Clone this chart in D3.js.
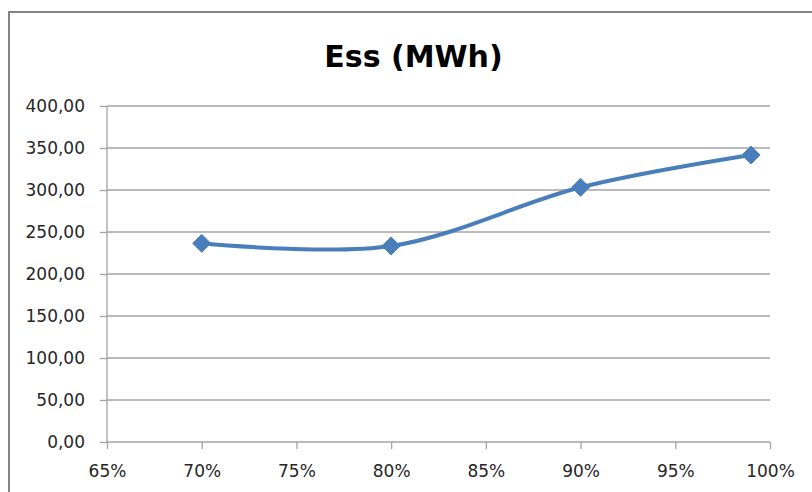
<!DOCTYPE html>
<html>
<head>
<meta charset="utf-8">
<script src="https://cdn.jsdelivr.net/npm/d3@7/dist/d3.min.js"></script>
<style>
  html, body { margin: 0; padding: 0; background: #fff; }
  svg { display: block; }
</style>
</head>
<body>
<script>
// Energy stored vs. ratio
const title = "Ess (MWh)";
const ratios = [0.70, 0.80, 0.90, 0.99];
const essValues = [236.5, 233.3, 303.2, 341.7];
const xTicks = [0.65, 0.70, 0.75, 0.80, 0.85, 0.90, 0.95, 1.00];
const yTicks = [0, 50, 100, 150, 200, 250, 300, 350, 400];

const W = 812, H = 492;
const plot = { left: 107, right: 770, top: 106, bottom: 442 };

const svg = d3.select("body").append("svg")
  .attr("width", W).attr("height", H);

// chart frame
svg.append("rect")
  .attr("x", 9).attr("y", 12)
  .attr("width", 840).attr("height", 520)
  .attr("fill", "#fff")
  .attr("stroke", "#838383").attr("stroke-width", 2);

const x = d3.scaleLinear().domain([0.65, 1.00]).range([plot.left, plot.right]);
const y = d3.scaleLinear().domain([0, 400]).range([plot.bottom, plot.top]);

const fmtY = d => d3.format(".2f")(d).replace(".", ",");
const fmtX = d => Math.round(d * 100) + "%";

// horizontal gridlines
svg.append("g").selectAll("line")
  .data(yTicks.filter(d => d > 0))
  .join("line")
  .attr("x1", plot.left).attr("x2", plot.right)
  .attr("y1", d => y(d)).attr("y2", d => y(d))
  .attr("stroke", "#a3a3a3").attr("stroke-width", 1.3);

// y axis
const yAxis = svg.append("g")
  .attr("transform", `translate(${plot.left},0)`)
  .call(d3.axisLeft(y).tickValues(yTicks).tickFormat(fmtY).tickSize(7).tickPadding(15));

// x axis
const xAxis = svg.append("g")
  .attr("transform", `translate(0,${plot.bottom})`)
  .call(d3.axisBottom(x).tickValues(xTicks).tickFormat(fmtX).tickSize(7).tickPadding(16));

[yAxis, xAxis].forEach(ax => {
  ax.select(".domain").attr("stroke", "#a3a3a3").attr("stroke-width", 1.3);
  ax.selectAll(".tick line").attr("stroke", "#a3a3a3").attr("stroke-width", 1.3);
  ax.selectAll(".tick text")
    .attr("fill", "#262626")
    .style("font-family", "'DejaVu Sans', sans-serif")
    .style("font-size", "17px");
});
// axis lines span exactly the plot area
yAxis.select(".domain").attr("d", `M0,${plot.bottom}V${plot.top}`);
xAxis.select(".domain").attr("d", `M${plot.left},0H${plot.right}`);

// title
svg.append("text")
  .attr("x", 413.5).attr("y", 67)
  .attr("text-anchor", "middle")
  .attr("fill", "#000")
  .style("font-family", "'DejaVu Sans', sans-serif")
  .style("font-weight", "bold")
  .style("font-size", "30px")
  .text(title);

const pts = ratios.map((r, i) => [x(r), y(essValues[i])]);

// smoothed series line
svg.append("path")
  .attr("d", d3.line().curve(d3.curveCardinal.tension(0))(pts))
  .attr("fill", "none")
  .attr("stroke", "#4a7ebb")
  .attr("stroke-width", 4)
  .attr("stroke-linejoin", "round");

// diamond markers
svg.append("g").selectAll("path")
  .data(pts)
  .join("path")
  .attr("transform", d => `translate(${d[0]},${d[1]})`)
  .attr("d", "M0,-9L9,0L0,9L-9,0Z")
  .attr("fill", "#4a7ebb")
  .attr("stroke", "#4a7ebb")
  .attr("stroke-width", 1);
</script>
</body>
</html>
